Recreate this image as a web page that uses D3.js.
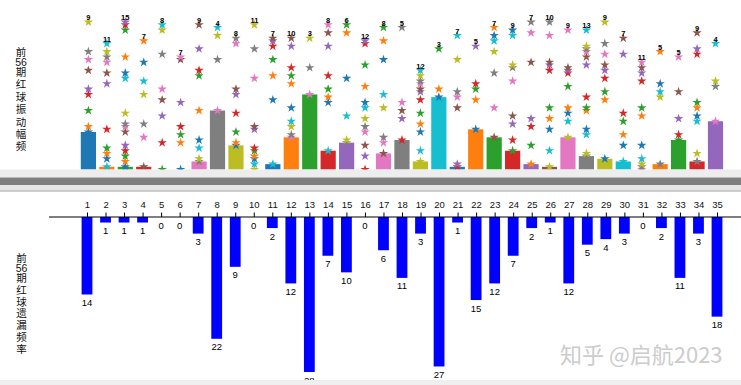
<!DOCTYPE html>
<html>
<head>
<meta charset="utf-8">
<script src="https://cdn.jsdelivr.net/npm/d3@7"></script>
<style>
body{margin:0;background:#fff;}
svg{display:block;}
</style>
</head>
<body>
<svg width="741" height="385"></svg>
<script>
// ball numbers
var balls = [1,2,3,4,5,6,7,8,9,10,11,12,13,14,15,16,17,18,19,20,21,22,23,24,25,26,27,28,29,30,31,32,33,34,35];

// current miss of every ball (bar in both panels)
var miss = [14,1,1,1,0,0,3,22,9,0,2,12,28,7,10,0,6,11,3,27,1,15,12,7,2,1,12,5,4,3,0,2,11,3,18];

// periods (counted back from the latest one) in which each ball came out
var hits = [
  [14,16,22,28,30,37,41,44,55],
  [1,4,6,8,15,32,36,40,42,44,47],
  [1,3,5,7,9,14,16,17,21,34,36,42,52,54,55],
  [1,12,17,28,33,40,48],
  [0,10,20,26,30,43,52,54],
  [0,10,13,16,25,41,42],
  [3,4,8,11,22,35,37,45,54],
  [22,41,50,53],
  [9,10,14,21,28,30,47,49],
  [0,2,4,5,7,8,15,16,34,45,54],
  [2,26,35,41,46,48,49],
  [12,13,16,18,23,32,35,38,46,49],
  [28,38,49],
  [7,25,27,30,35,46,51,54],
  [10,11,20,34,51,54],
  [0,5,9,14,16,19,23,25,31,39,47,48],
  [6,10,12,23,28,41,48,53],
  [11,19,22,25,53],
  [3,7,14,17,21,26,29,30,32,33,35,37],
  [27,30,45],
  [1,2,23,27,29,41,50],
  [15,26,30,32,46],
  [12,23,36,44,48,50,53],
  [7,11,17,20,33,38,39,50,52],
  [2,9,16,19,40,51,55],
  [1,7,15,19,23,37,39,40,50,55],
  [12,18,21,23,31,36,37,38,52],
  [5,6,13,15,22,23,27,39,42,44,45,46,52],
  [4,26,29,34,37,39,43,47,55],
  [3,9,13,18,21,43,49],
  [0,1,2,4,9,20,23,33,36,38,40],
  [2,27,29,32,44],
  [11,13,19,29,42],
  [3,6,18,20,23,25,43,45,51],
  [18,31,33,47]
];

var topTitle = ["前","56","期","红","球","振","动","幅","频"];
var bottomTitle = ["前","56","期","红","球","遗","漏","频","率"];
var watermark = "知乎 @启航2023";

var svg = d3.select("svg");
var colors = d3.schemeCategory10;
var numFont = "'Liberation Sans', Arial, sans-serif";
var cjkFont = "'Noto Sans CJK SC', sans-serif";

// scales
var xTop = d3.scalePoint().domain(balls).range([88.4, 715.5]);
var yTop = d3.scaleLinear().domain([0, 56]).range([169.5, 19.4]);
var xBot = d3.scalePoint().domain(balls).range([87, 717]);
var yBot = d3.scaleLinear().domain([0, 28]).range([217, 372]);

// ---------- top panel ----------
svg.append("g")
    .selectAll("rect")
    .data(balls)
    .join("rect")
    .attr("x", d => xTop(d) - 7.6)
    .attr("width", 15.2)
    .attr("y", (d, i) => yTop(miss[i]))
    .attr("height", (d, i) => yTop(0) - yTop(miss[i]))
    .attr("fill", (d, i) => colors[i % 10]);

// stars, colour runs through the palette in drawing order
var stars = [];
hits.forEach(function(col, i){
    col.forEach(function(p){
        stars.push({ball: balls[i], p: p, k: stars.length});
    });
});
var star = d3.symbol().type(d3.symbolStar).size(27);
svg.append("g")
    .selectAll("path")
    .data(stars)
    .join("path")
    .attr("d", star)
    .attr("transform", d => "translate(" + xTop(d.ball) + "," + yTop(d.p) + ")")
    .attr("fill", d => colors[d.k % 10]);

// count above each column
svg.append("g")
    .selectAll("text")
    .data(balls)
    .join("text")
    .attr("x", d => xTop(d))
    .attr("y", (d, i) => yTop(d3.max(hits[i])) - 1.8)
    .attr("text-anchor", "middle")
    .style("font-family", numFont)
    .style("font-size", "7.5px")
    .style("font-weight", "bold")
    .text((d, i) => hits[i].length);

// vertical title, one text with a tspan per line
function stackTitle(parts, x, y0, step){
    var t = svg.append("text")
        .attr("text-anchor", "middle")
        .style("font-family", cjkFont)
        .style("font-size", "10.5px")
        .style("fill", "#111");
    var y = y0;
    parts.forEach(function(p, i){
        if (i > 0) y += (parts[i-1] == "56") ? 10.5 : (p == "56" ? 9.5 : step);
        t.append("tspan")
            .attr("x", x).attr("y", y + 4)
            .style("font-family", p == "56" ? numFont : cjkFont)
            .text(p);
    });
}
stackTitle(topTitle, 21, 52, 12.4);

// ---------- splitter ----------
svg.append("rect").attr("x", 0).attr("y", 169.5).attr("width", 741).attr("height", 8).attr("fill", "#ededed");
svg.append("rect").attr("x", 0).attr("y", 177.5).attr("width", 741).attr("height", 7.5).attr("fill", "#7f7f7f");
svg.append("rect").attr("x", 0).attr("y", 185).attr("width", 741).attr("height", 5.5).attr("fill", "#e6e6e6");
svg.append("line").attr("x1", 0).attr("x2", 741).attr("y1", 191).attr("y2", 191).attr("stroke", "#a0a0a0");

// ---------- bottom panel ----------
stackTitle(bottomTitle, 21.5, 258, 11.8);

svg.append("g")
    .selectAll("rect")
    .data(balls)
    .join("rect")
    .attr("x", d => xBot(d) - 5.4)
    .attr("width", 10.8)
    .attr("y", yBot(0))
    .attr("height", (d, i) => yBot(miss[i]) - yBot(0))
    .attr("fill", "#0000ff");

svg.append("g")
    .selectAll("text")
    .data(balls)
    .join("text")
    .attr("x", d => xBot(d))
    .attr("y", (d, i) => yBot(miss[i]) + 11.5)
    .attr("text-anchor", "middle")
    .style("font-family", numFont)
    .style("font-size", "9.5px")
    .text((d, i) => miss[i]);

// axis on top of the bars
var axis = svg.append("g")
    .attr("transform", "translate(0," + yBot(0) + ")")
    .call(d3.axisTop(xBot).tickSize(4.5).tickPadding(5));
axis.select(".domain").remove();
axis.selectAll("text").style("font-family", numFont).style("font-size", "9.5px").attr("fill", "#111");
svg.append("line")
    .attr("x1", 49).attr("x2", 741)
    .attr("y1", yBot(0)).attr("y2", yBot(0))
    .attr("stroke", "#000").attr("stroke-width", 1.2);

svg.append("text")
    .attr("x", 560).attr("y", 363)
    .style("font-family", cjkFont)
    .style("font-size", "22px")
    .style("fill", "#cccccc")
    .text(watermark);

svg.append("rect").attr("x", 0).attr("y", 380).attr("width", 741).attr("height", 5).attr("fill", "#efefef");
</script>
</body>
</html>
